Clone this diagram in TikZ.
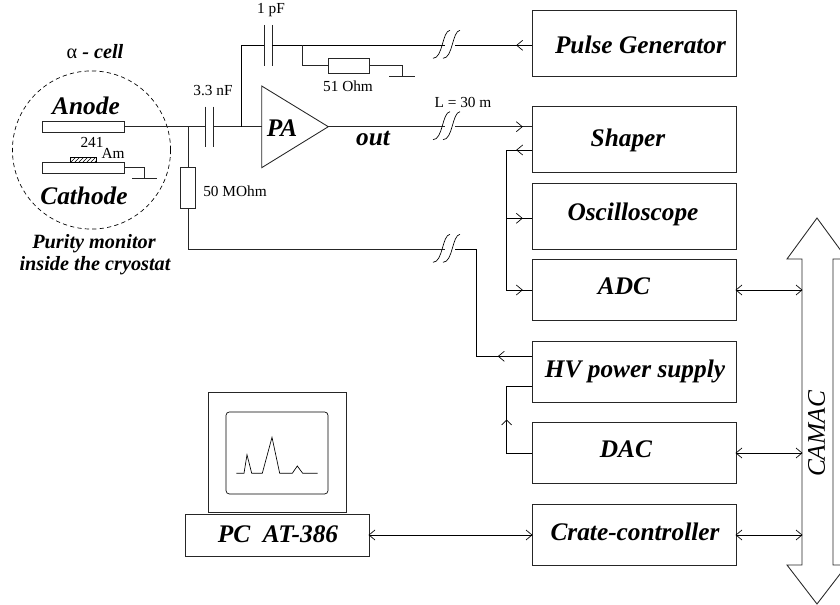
\documentclass[tikz,border=0pt]{standalone}
\usepackage{fontspec}
\setmainfont{Liberation Serif}
\usetikzlibrary{patterns}
\tikzset{
  x=0.75pt,y=-0.75pt,
  wire/.style={draw=black!85,line width=0.65pt,line join=miter},
  thin wire/.style={draw=black,line width=0.5pt},
  box/.style={draw=black!85,line width=0.65pt,minimum width=153pt,inner sep=0pt,outer sep=0pt},
  tall/.style={minimum height=49.5pt},
  short/.style={minimum height=45.75pt},
  plate/.style={draw=black!85,line width=0.65pt,inner sep=0pt,outer sep=0pt,minimum width=61.5pt,minimum height=7.8pt,fill=white},
  big/.style={font=\fontsize{19}{21}\selectfont\bfseries\itshape,inner sep=0pt},
  mid/.style={font=\fontsize{15.2}{17}\selectfont\bfseries\itshape,inner sep=0pt},
  small/.style={font=\fontsize{11.5}{13}\selectfont,inner sep=0pt},
}
% open arrow barbs: #1 tip, #2 direction (+1 right, -1 left)
\newcommand{\barbh}[2]{\draw[thin wire] ([shift={({-6*(#2)},-5)}]#1) -- (#1) -- ([shift={({-6*(#2)},5)}]#1);}
\newcommand{\brk}[1]{\draw[thin wire] ([shift={(-12,13)}]#1) .. controls ([shift={(-2,13)}]#1) and ([shift={(-3,-14)}]#1) .. ([shift={(5,-15)}]#1);}
\begin{document}
\begin{tikzpicture}
\useasboundingbox (0,0) rectangle (840,605);

% right-hand boxes
\node[box,tall]  (pg)    at (634,43)    {};
\node[box,tall]  (shap)  at (634,139)   {};
\node[box,tall]  (osc)   at (634,216)   {};
\node[box,short] (adc)   at (634,289.5) {};
\node[box,short] (hv)    at (634,371.5) {};
\node[box,short] (dac)   at (634,453)   {};
\node[box,short] (crate) at (634,534.5) {};
\node[big] (pgt)  at (640.5,44.5) {Pulse Generator};
\node[big] (shat) at (628,140.5)  {Shaper};
\node[big] (osct) at (633,214.5)  {Oscilloscope};
\node[big] (adct) at (624,286)    {ADC};
\node[big] (hvt)  at (635,371.5)  {HV power supply};
\node[big] (dact) at (626,449)    {DAC};
\node[big] (crat) at (635,531.5)  {Crate-controller};

% CAMAC bus
\draw[wire,line join=miter] (802,259) -- (787,259) -- (817,218) -- (847,259) -- (833,259) -- (833,565) -- (847,565) -- (817,604) -- (787,565) -- (802,565) -- cycle;
\node[font=\fontsize{19}{21}\selectfont\itshape,inner sep=0pt,rotate=90] (camac) at (816.5,434) {CAMAC};

% PC
\node[draw=black!85,line width=0.65pt,minimum width=103.5pt,minimum height=90pt,inner sep=0pt] (mon) at (277,452) {};
\node[draw=black,line width=0.5pt,rounded corners=2.5pt,minimum width=76.5pt,minimum height=61.5pt,inner sep=0pt] (scr) at (277,453) {};
\draw[thin wire] (236.3,473.3) -- (244,473.3) -- (247,454.7) -- (251.7,473.3) -- (262.3,473.3) -- (272,437.3) -- (279.7,473.3) -- (292.3,473.3) -- (297.3,466) -- (302.7,473.3) -- (317.7,473.3);
\node[draw=black!85,line width=0.65pt,minimum width=138pt,minimum height=31.5pt,inner sep=0pt,outer sep=0pt] (pc) at (277,535) {};
\node[big] (pct) at (278,534) {PC\ \ AT-386};

% bidirectional links
\coordinate (buscr)  at (802,535);
\coordinate (cra)    at (736,535);
\coordinate (crl)    at (532,535);
\coordinate (pcr)    at (369,535);
\draw[thin wire] (adc.east |- 0,290) coordinate (adcr) -- (802,290) coordinate (busa);
\barbh{adcr}{-1}\barbh{busa}{1}
\draw[thin wire] (736,453) coordinate (dacr) -- (802,453) coordinate (busd);
\barbh{dacr}{-1}\barbh{busd}{1}
\draw[thin wire] (cra) -- (buscr);
\barbh{cra}{-1}\barbh{buscr}{1}
\draw[thin wire] (pcr) -- (crl);
\barbh{pcr}{-1}\barbh{crl}{1}

% alpha cell
\draw[line width=0.5pt,dash pattern=on 3.2pt off 2.4pt] (91.5,150) circle[radius=59.3pt];
\node[plate] (anode) at (83.7,127) {};
\node[plate] (cath)  at (83.7,167.8) {};
\draw[line width=0.5pt,pattern=north east lines] (70.7,157.3) rectangle (96.7,162.7);
\node[big] (anot) at (86,106) {Anode};
\node[big] (catt) at (84,195.5) {Cathode};
\node[small] (n241) at (92,142.7) {241};
\node[small] (nam)  at (113,153.3) {Am};
\node[mid] (puri) at (94,243.5) {Purity monitor};
\node[mid] (insi) at (95,266) {inside the cryostat};
\node[mid] (alph) at (95,52) {{\fontseries{m}\fontshape{n}\selectfont α} - cell};
\coordinate (gc) at (144.3,178);
\draw[wire] (cath.east |- 0,167.3) -| (gc);
\draw[wire] (132.3,178) -- (157,178);

% input stage
\coordinate (sumj) at (188,126.7);
\coordinate (paj)  at (241.3,126.7);
\coordinate (c1a)  at (205.7,126.7);
\coordinate (c1b)  at (213.3,126.7);
\draw[wire] (anode.east |- sumj) -- (c1a);
\draw[wire] (c1b) -- (paj);
\draw[wire] (205.7,106.7) -- (205.7,147.3);
\draw[wire] (213.3,106.7) -- (213.3,147.3);
\node[small] (c1t) at (213,91) {3.3 nF};
\node[draw=black!85,line width=0.65pt,minimum width=11.5pt,minimum height=30.7pt,inner sep=0pt,outer sep=0pt] (r50) at (188,188.2) {};
\node[small] (r50t) at (235,191) {50 MOhm};
\draw[wire] (sumj) -- (r50.north);

% preamp
\draw[draw=black!85,line width=0.65pt,line join=miter] (261.7,86) coordinate (pat) -- (328.3,126.7) coordinate (pao) -- (261.7,167.7) -- cycle;
\coordinate (pai) at (261.7,126.7);
\node[big] (pat2) at (282,128.5) {PA};
\node[big] (outt) at (373,139) {out};
\draw[wire] (paj) -- (pai);

% feedback / test line
\coordinate (c2a) at (264.3,45.3);
\coordinate (c2b) at (272.3,45.3);
\draw[thin wire] (paj) |- (c2a);
\draw[wire] (264.3,25) -- (264.3,65.7);
\draw[wire] (272.3,25) -- (272.3,65.7);
\node[small] (c2t) at (271,10.5) {1 pF};
\coordinate (b1) at (445,45.3);
\coordinate (b2) at (455,45.3);
\draw[thin wire] (c2b) -- (b1);
\draw[thin wire] (b2) -- (pg.west |- b2) coordinate (pgin);
\coordinate (pgtip) at (516.7,45.3);
\barbh{pgtip}{-1}
\brk{445,45.3}\brk{455,45.3}

% 51 Ohm
\coordinate (rj) at (302.3,45.3);
\node[draw=black!85,line width=0.65pt,minimum width=30.8pt,minimum height=11.5pt,inner sep=0pt,outer sep=0pt] (r51) at (348.8,65.7) {};
\draw[wire] (rj) |- (r51.west);
\coordinate (g51) at (402.3,76);
\draw[wire] (r51.east) -| (g51);
\draw[wire] (389.3,76) -- (415,76);
\node[small] (r51t) at (348,86) {51 Ohm};

% output
\coordinate (b3) at (445,126.7);
\coordinate (b4) at (455,126.7);
\draw[wire] (pao) -- (b3);
\draw[wire] (b4) -- (shap.west |- b4);
\coordinate (shtip) at (522.3,126.7);
\barbh{shtip}{1}
\brk{445,126.7}\brk{455,126.7}
\node[small] (lt) at (463,102.5) {L = 30 m};

% shaper fan-out
\coordinate (fo) at (506.7,150);
\coordinate (fot) at (516.7,150);
\coordinate (foo) at (522.3,218.3);
\coordinate (foa) at (522.3,290);
\draw[thin wire] (shap.west |- fo) -- (fo) -- (506.7,290) -- (adc.west |- foa);
\draw[thin wire] (506.7,218.3) -- (osc.west |- foo);
\barbh{fot}{-1}\barbh{foo}{1}\barbh{foa}{1}

% HV line
\coordinate (b5) at (445,249.3);
\coordinate (b6) at (455,249.3);
\draw[wire] (r50.south) |- (b5);
\draw[thin wire] (b6) -- (476,249.3) -- (476,356.3) -- (hv.west |- 0,356.3);
\coordinate (hvtip) at (498.3,356.3);
\barbh{hvtip}{-1}
\brk{445,249.3}\brk{455,249.3}

% HV - DAC
\draw[thin wire] (hv.west |- 0,386.7) -- (506.7,386.7) -- (506.7,453) -- (dac.west |- 0,453);
\coordinate (updn) at (506.7,420);
\draw[thin wire] (501.7,425) -- (updn) -- (511.7,425);
\end{tikzpicture}
\end{document}
